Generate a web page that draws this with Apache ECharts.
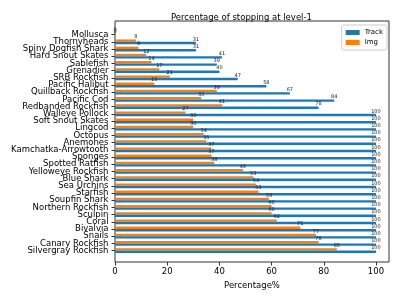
<!DOCTYPE html>
<html>
<head>
<meta charset="utf-8">
<script src="https://cdn.jsdelivr.net/npm/echarts@6/dist/echarts.min.js"></script>
<style>html,body{margin:0;padding:0;background:#fff;}#c{width:399px;height:299px;}</style>
</head>
<body>
<div id="c"></div>
<script>
const categories = ["Mollusca","Thornyheads","Spiny Dogfish Shark","Hard Snout Skates","Sablefish","Grenadier","SRB Rockfish","Pacific Halibut","Quillback Rockfish","Pacific Cod","Redbanded Rockfish","Walleye Pollock","Soft Snout Skates","Lingcod","Octopus","Anemones","Kamchatka-Arrowtooth","Sponges","Spotted Ratfish","Yelloweye Rockfish","Blue Shark","Sea Urchins","Starfish","Soupfin Shark","Northern Rockfish","Sculpin","Coral","Bivalvia","Snails","Canary Rockfish","Silvergray Rockfish"];
const trackValues = [0,31,31,41,39,40,47,58,67,84,78,100,100,100,100,100,100,100,100,100,100,100,100,100,100,100,100,100,100,100,100];
const imgValues = [0,8,9,12,14,17,21,15,39,33,41,27,30,30,34,35,37,37,38,49,53,54,55,59,60,60,62,71,77,78,85];
const xTicks = [0,20,40,60,80,100];
const titleText = "Percentage of stopping at level-1";
const xName = "Percentage%";

const FONT = "DejaVu Sans";
const chart = echarts.init(document.getElementById('c'), null, {renderer:'canvas'});
const barLabel = {
  show: true,
  position: ['100%', 0],
  align: 'center',
  verticalAlign: 'bottom',
  distance: 0,
  fontSize: 5,
  fontFamily: FONT,
  color: '#222'
};
chart.setOption({
  animation: false,
  backgroundColor: '#fff',
  title: {
    text: titleText, left: 166, top: 8,
    textStyle: {fontFamily: FONT, fontSize: 8.5, fontWeight: 'normal', color: '#000'}
  },
  legend: {
    data: ['Track','Img'], orient: 'vertical', right: 12, top: 25,
    icon: 'rect', itemWidth: 14, itemHeight: 5, itemGap: 3,
    padding: [4,4,4,4], borderColor: '#ccc', borderWidth: 1, borderRadius: 2,
    textStyle: {fontFamily: FONT, fontSize: 7, color: '#000'}
  },
  grid: [
    {left: 115, right: 10, top: 31, height: 223.2, containLabel: false},
    {left: 115, right: 10, top: 21, bottom: 37, show: true, borderColor: '#333', borderWidth: 1, backgroundColor: 'transparent'}
  ],
  xAxis: [
    {
      type: 'value', gridIndex: 0, min: 0, max: 105, offset: 7.8,
      name: xName, nameLocation: 'middle', nameGap: 16,
      nameTextStyle: {fontFamily: FONT, fontSize: 8.5, color: '#000'},
      axisLine: {show: false},
      axisTick: {show: true, length: 3.5, customValues: xTicks, lineStyle: {color: '#333'}},
      axisLabel: {customValues: xTicks, fontFamily: FONT, fontSize: 8.5, color: '#000', margin: 5},
      splitLine: {show: false}
    },
    {type: 'value', gridIndex: 1, show: false}
  ],
  yAxis: [
    {
      type: 'category', gridIndex: 0, data: categories, inverse: true,
      axisLine: {show: false},
      axisTick: {show: true, alignWithLabel: true, length: 3.5, lineStyle: {color: '#333'}},
      axisLabel: {interval: 0, fontFamily: FONT, fontSize: 8.5, color: '#000', margin: 6.5},
      splitLine: {show: false}
    },
    {type: 'category', gridIndex: 1, show: false, data: []}
  ],
  series: [
    {
      name: 'Img', type: 'bar', xAxisIndex: 0, yAxisIndex: 0,
      data: imgValues, barWidth: '33%', barGap: '0%',
      itemStyle: {color: '#ff7f0e'}, label: barLabel
    },
    {
      name: 'Track', type: 'bar', xAxisIndex: 0, yAxisIndex: 0,
      data: trackValues, barWidth: '33%', barGap: '0%',
      itemStyle: {color: '#1f77b4'}, label: barLabel
    }
  ]
});
</script>
</body>
</html>
